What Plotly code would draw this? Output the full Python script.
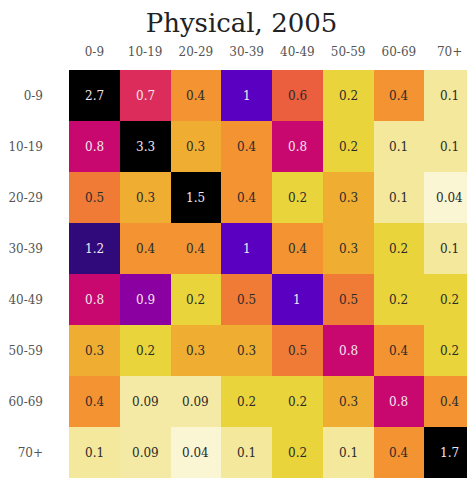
import plotly.graph_objects as go

age_groups = ["0-9", "10-19", "20-29", "30-39", "40-49", "50-59", "60-69", "70+"]

row_0_9 = [2.7, 0.7, 0.4, 1, 0.6, 0.2, 0.4, 0.1]
row_10_19 = [0.8, 3.3, 0.3, 0.4, 0.8, 0.2, 0.1, 0.1]
row_20_29 = [0.5, 0.3, 1.5, 0.4, 0.2, 0.3, 0.1, 0.04]
row_30_39 = [1.2, 0.4, 0.4, 1, 0.4, 0.3, 0.2, 0.1]
row_40_49 = [0.8, 0.9, 0.2, 0.5, 1, 0.5, 0.2, 0.2]
row_50_59 = [0.3, 0.2, 0.3, 0.3, 0.5, 0.8, 0.4, 0.2]
row_60_69 = [0.4, 0.09, 0.09, 0.2, 0.2, 0.3, 0.8, 0.4]
row_70p = [0.1, 0.09, 0.04, 0.1, 0.2, 0.1, 0.4, 1.7]

z = [row_0_9, row_10_19, row_20_29, row_30_39, row_40_49, row_50_59, row_60_69, row_70p]

ZMAX = 1.5
stops = [
    (0.0, "#fdf9e6"), (0.04, "#faf5d3"), (0.1, "#f3e89c"), (0.2, "#e9d43c"),
    (0.3, "#efae32"), (0.4, "#f39331"), (0.5, "#f07b36"), (0.6, "#eb5e3e"),
    (0.7, "#dc2c5c"), (0.8, "#c8086e"), (0.9, "#8a00a0"), (1.0, "#5a00c0"),
    (1.2, "#300a7a"), (1.5, "#000000"),
]
colorscale = [[v / ZMAX, c] for v, c in stops]

fig = go.Figure(go.Heatmap(
    z=z, x=age_groups, y=age_groups,
    colorscale=colorscale, zmin=0, zmax=ZMAX, showscale=False,
    hoverinfo="skip",
))

def fmt(v):
    return f"{v:g}"

SERIF = "DejaVu Serif"

for i, row in enumerate(z):
    for j, v in enumerate(row):
        fig.add_annotation(
            x=age_groups[j], y=age_groups[i], text=fmt(v), showarrow=False,
            font=dict(family=SERIF, size=12,
                      color="#f2e6f0" if v >= 0.7 else "#2a2a2a"),
        )

fig.update_layout(
    width=467, height=470,
    margin=dict(l=59, r=0, t=62, b=0),
    paper_bgcolor="white", plot_bgcolor="white",
    title=dict(text="Physical, 2005", x=0.5, xanchor="center", y=0.968, yanchor="middle",
               font=dict(family=SERIF, size=26, color="#222")),
    xaxis=dict(side="top", showgrid=False, zeroline=False, ticks="",
               ticklabelstandoff=11,
               tickfont=dict(family=SERIF, size=12, color="#555")),
    yaxis=dict(autorange="reversed", showgrid=False, zeroline=False, ticks="",
               ticklabelstandoff=25,
               tickfont=dict(family=SERIF, size=12, color="#555")),
)

fig.write_html("out.html")
